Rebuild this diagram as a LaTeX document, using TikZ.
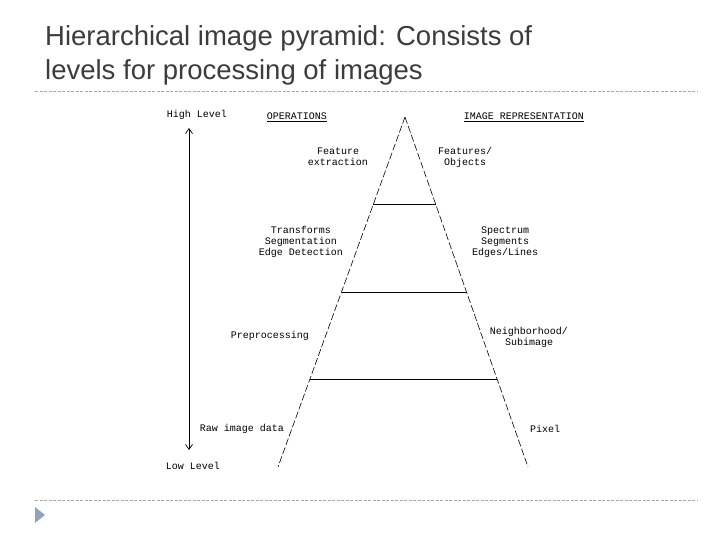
\documentclass[tikz,border=0pt]{standalone}
\usepackage{fontspec}
\setmainfont{Liberation Sans}
\newfontfamily\labelfont{Liberation Mono}
\usetikzlibrary{calc, arrows.meta}

\definecolor{titlegray}{HTML}{3C3C3C}
\definecolor{rulegray}{HTML}{A8A8A8}
\definecolor{bulletblue}{HTML}{8FA3BC}

\begin{document}
\begin{tikzpicture}[x=1pt, y=-1pt,
    lbl/.style = {font=\labelfont\fontsize{10}{11}\selectfont, align=center, inner sep=0pt},
    side/.style = {dash pattern=on 7pt off 2.5pt, line width=0.6pt},
    rule/.style = {rulegray, dash pattern=on 3pt off 1.5pt, line width=0.8pt}]
                \useasboundingbox (0,0) rectangle (720,540);

                % slide title
                \node[anchor=west, align=left, inner sep=0pt, text=titlegray, font=\fontsize{27.5}{34}\selectfont] (title) at (45,55) {Hierarchical image pyramid: Consists of\\levels for processing of images};
                \coordinate (ruleL) at (35,91);
                \coordinate (ruleR) at (697,91);
                \draw[rule] (ruleL) -- (ruleR);
                \coordinate (footL) at (35,500);
                \coordinate (footR) at (697,500);
                \draw[rule] (footL) -- (footR);
                \fill[bulletblue] (35,507) -- (45,515) -- (35,523) -- cycle;

                % pyramid
                \coordinate (apex) at (405,117);
                \coordinate (bl) at (278,467);
                \coordinate (br) at (528,467);
                \draw[side] (apex) -- (bl);
                \draw[side] (apex) -- (br);
                \foreach \t in {0.25, 0.5, 0.75}
                    \draw[line width=0.7pt] ($(apex)!\t!(bl)$) -- ($(apex)!\t!(br)$);

                % level arrow
                \node[lbl] (high) at (197,115) {High Level};
                \node[lbl] (low) at (193,466) {Low Level};
                \coordinate (arrtop) at (189,128);
                \coordinate (arrbot) at (189,450);
                \draw[{Straight Barb[length=5pt, width=7pt]}-{Straight Barb[length=5pt, width=7pt]}, line width=0.7pt] (arrtop) -- (arrbot);

                % columns
                \node[lbl] (ops) at (297,117) {\underline{OPERATIONS}};
                \node[lbl] (rep) at (524,117) {\underline{IMAGE REPRESENTATION}};

                \node[lbl] (op1) at (338,157) {Feature\\extraction};
                \node[lbl] (rp1) at (465,157) {Features/\\Objects};
                \node[lbl] (op2) at (301,242) {Transforms\\Segmentation\\Edge Detection};
                \node[lbl] (rp2) at (505,242) {Spectrum\\Segments\\Edges/Lines};
                \node[lbl] (op3) at (270,336) {Preprocessing};
                \node[lbl] (rp3) at (529,337) {Neighborhood/\\Subimage};
                \node[lbl] (op4) at (242,429) {Raw image data};
                \node[lbl] (rp4) at (545,429) {Pixel};
            \end{tikzpicture}
\end{document}
